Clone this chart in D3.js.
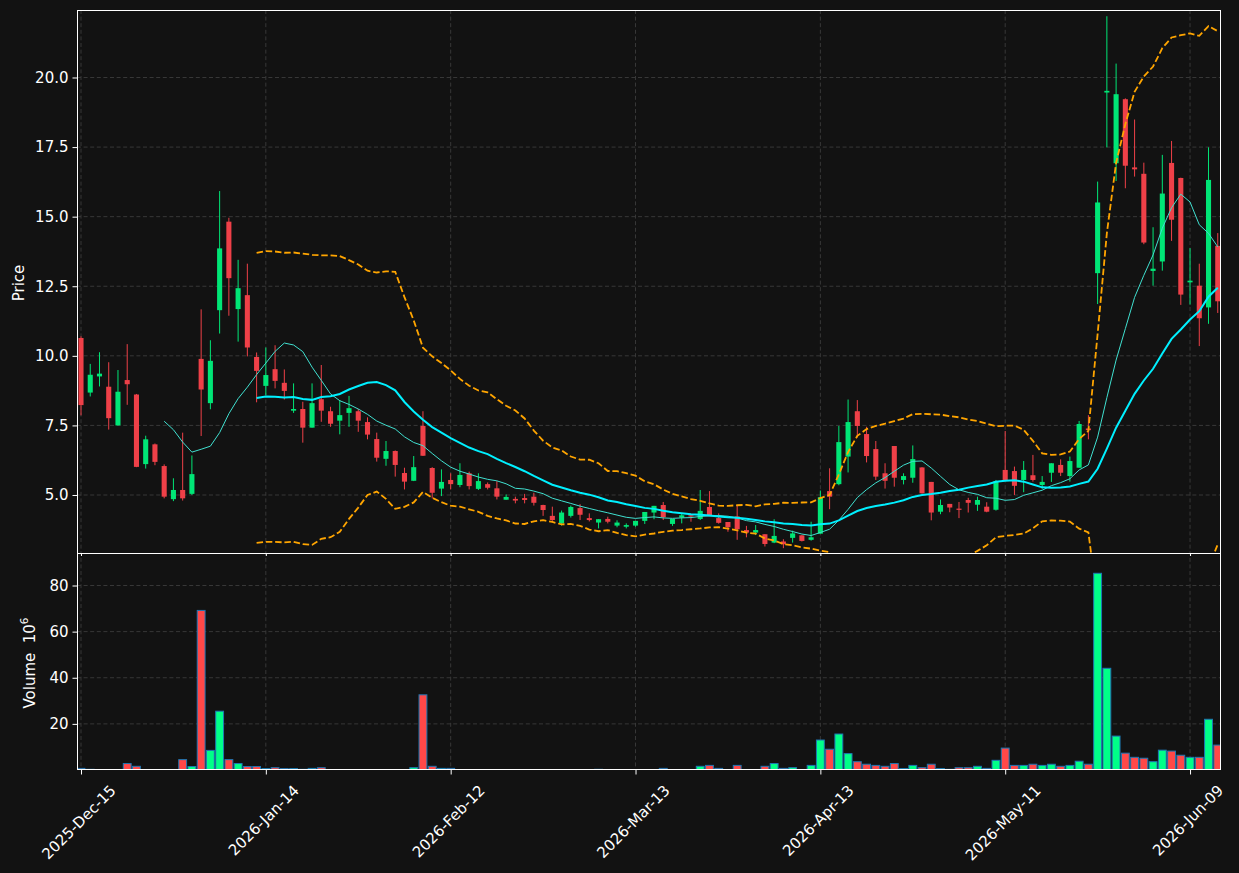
<!DOCTYPE html>
<html><head><meta charset="utf-8">
<script src="https://cdn.jsdelivr.net/npm/d3@7"></script>
<style>
html,body{margin:0;padding:0;background:#121212;}
svg{display:block;}
text{font-family:"DejaVu Sans",sans-serif;}
</style></head><body>
<svg id="chart" width="1239" height="873"></svg>
<script>
// ---- data ----
const openP = [10.64,8.68,9.26,8.89,7.50,9.13,8.61,6.11,6.82,6.04,4.85,5.18,5.04,9.89,8.30,11.64,14.82,11.68,12.18,9.96,
8.92,9.52,9.03,8.03,8.09,7.42,8.44,8.01,7.67,7.95,8.01,7.62,7.01,6.30,6.58,5.79,5.51,7.48,5.97,5.23,
5.54,5.36,5.78,5.22,5.39,5.24,4.83,4.86,4.89,4.94,4.64,4.25,3.98,4.25,4.53,4.17,4.01,4.14,3.90,3.86,
3.90,4.07,4.37,4.64,3.96,4.19,4.27,4.14,4.57,4.17,4.03,4.23,3.74,3.65,3.59,3.29,3.33,3.46,3.55,3.39,
3.61,5.14,5.39,6.38,8.01,7.19,6.65,5.78,6.76,5.54,5.62,5.99,5.47,4.40,4.68,4.51,4.82,4.65,4.58,4.47,
5.90,5.86,5.54,5.71,5.36,5.80,6.08,5.68,5.98,7.39,12.97,19.46,16.92,19.22,16.77,16.54,13.05,13.39,16.93,16.39,
12.64,12.52,11.74,13.95];
const highP = [10.70,9.71,10.13,9.77,9.49,10.42,8.63,7.13,6.85,6.10,5.60,7.24,6.42,11.67,10.56,15.92,14.96,13.45,13.31,10.12,
10.30,10.38,9.51,9.01,8.35,9.01,9.67,8.17,8.41,8.56,8.09,7.79,7.24,6.94,6.60,5.98,6.40,8.01,6.00,5.92,
5.78,6.14,5.84,5.78,5.45,5.50,5.02,4.94,5.04,5.08,4.65,4.58,4.44,4.62,4.67,4.34,4.13,4.22,4.09,3.98,
4.07,4.39,4.61,4.75,4.14,4.34,4.32,5.18,5.14,4.34,4.03,4.64,3.89,3.92,3.59,4.13,3.41,3.72,3.56,4.04,
5.16,5.96,7.48,8.43,8.41,7.45,6.94,6.14,6.76,5.78,6.78,6.00,5.47,4.84,4.68,4.75,4.90,4.94,4.74,5.54,
7.30,6.02,6.22,6.44,5.68,6.14,6.28,6.38,7.66,7.87,16.26,22.20,20.50,19.25,18.49,16.94,14.62,17.22,17.72,16.40,
13.87,13.31,17.49,14.41];
const lowP = [7.86,8.54,8.90,7.35,7.50,8.24,6.00,5.95,6.07,4.88,4.78,4.80,5.00,7.12,8.08,10.80,11.44,10.51,9.98,8.33,
8.59,8.83,8.43,7.95,6.88,7.42,7.63,7.45,7.18,7.45,7.27,7.00,6.20,6.05,5.66,5.20,5.50,6.40,4.88,4.96,
5.20,5.28,5.20,5.18,5.20,4.84,4.83,4.70,4.70,4.62,4.25,4.07,3.90,4.19,4.10,4.05,3.80,3.98,3.84,3.80,
3.86,3.96,4.13,4.10,3.89,3.98,4.04,4.10,4.24,3.97,3.68,3.39,3.48,3.56,3.15,3.27,3.09,3.29,3.33,3.36,
3.61,4.49,5.35,5.81,7.07,6.17,5.54,5.23,5.30,5.38,5.44,5.05,4.09,4.31,4.38,4.17,4.37,4.43,4.38,4.44,
5.54,5.00,5.10,5.48,5.22,5.47,5.68,5.48,5.98,7.00,11.86,17.49,16.28,16.02,16.44,14.01,12.52,13.06,14.13,11.83,
11.84,10.35,11.15,11.54];
const closeP = [8.23,9.32,9.36,7.76,8.71,8.98,6.01,7.00,6.19,4.94,5.18,4.88,5.75,8.79,9.82,13.86,12.79,12.43,10.30,9.46,
9.31,9.10,8.74,8.09,7.42,8.30,8.03,7.56,7.87,8.12,7.67,7.17,6.34,6.58,6.08,5.48,6.00,6.41,5.08,5.47,
5.39,5.72,5.32,5.50,5.26,4.94,4.93,4.80,4.82,4.72,4.46,4.10,4.37,4.57,4.29,4.10,4.13,4.04,4.01,3.92,
4.07,4.39,4.61,4.20,4.14,4.27,4.24,4.43,4.25,4.00,3.84,3.77,3.65,3.74,3.24,3.53,3.23,3.62,3.35,3.48,
4.92,4.94,6.90,7.62,7.48,6.40,5.66,5.51,5.62,5.68,6.29,5.06,4.37,4.64,4.55,4.49,4.72,4.82,4.40,5.50,
5.54,5.33,5.90,5.54,5.47,6.14,5.80,6.22,7.55,7.33,15.51,19.52,19.40,16.83,16.70,14.07,13.13,15.83,14.89,12.20,
12.70,11.35,16.32,11.96];
const volume = [0.7,0.3,0.1,0.2,0.2,2.8,1.6,0.2,0.2,0.2,0.2,4.5,1.5,69.2,8.5,25.5,4.5,2.8,1.5,1.5,
0.6,1.0,0.6,0.6,0.3,0.7,1.0,0.2,0.2,0.2,0.2,0.2,0.2,0.2,0.2,0.2,1.0,32.6,1.6,0.7,
0.7,0.2,0.2,0.2,0.05,0.2,0.2,0.2,0.2,0.2,0.2,0.2,0.2,0.2,0.2,0.05,0.3,0.05,0.05,0.05,
0.05,0.2,0.2,0.7,0.2,0.2,0.2,1.6,2.0,0.7,0.2,2.0,0.2,0.2,1.6,2.8,0.7,1.0,0.2,2.0,
13.0,9.0,15.6,7.1,3.6,2.5,2.0,1.6,2.8,0.6,2.0,1.0,2.5,0.6,0.3,1.0,1.0,1.6,0.7,4.2,
9.5,2.0,2.0,2.5,2.0,2.5,1.6,2.0,3.8,2.5,85.3,44.1,14.7,7.3,5.5,5.1,3.6,8.6,8.2,6.4,
5.5,5.5,22.0,10.8];
const tickIdx = [0,20,40,60,80,100,120];
const tickLabels = ["2025-Dec-15","2026-Jan-14","2026-Feb-12","2026-Mar-13","2026-Apr-13","2026-May-11","2026-Jun-09"];
const priceTicks = [5,7.5,10,12.5,15,17.5,20];
const volTicks = [20,40,60,80];
const maShortWin = 10, maLongWin = 20, bandK = 2;

// ---- styling ----
const BG = "#121212", GRID = "#3c3c3c", FG = "#ffffff";
const UP = "#00e676", DOWN = "#ef4048", VUP = "#00ff88", VDOWN = "#ff4848", VEDGE = "#1f77b4";
const FS = "15px";

const svg = d3.select("#chart");
svg.append("rect").attr("width",1239).attr("height",873).attr("fill",BG);

const L = 77, R = 1221, PT = 10, PB = 553, VB = 770;
const x = d3.scaleLinear().domain([-0.433, 123.35]).range([L, R]);
const yP = d3.scaleLinear().domain([2.916, 22.425]).range([PB, PT]);
const yV = d3.scaleLinear().domain([0, 94.1]).range([VB, PB]);
const step = x(1) - x(0);

const defs = svg.append("defs");
defs.append("clipPath").attr("id","clipP").append("rect").attr("x",L).attr("y",PT).attr("width",R-L).attr("height",PB-PT);
defs.append("clipPath").attr("id","clipV").append("rect").attr("x",L).attr("y",PB).attr("width",R-L).attr("height",VB-PB);

// grids
const grid = svg.append("g").attr("stroke",GRID).attr("stroke-width",0.9).attr("stroke-dasharray","4,2.6");
grid.selectAll("line.hp").data(priceTicks).join("line")
  .attr("x1",L).attr("x2",R).attr("y1",d=>yP(d)).attr("y2",d=>yP(d));
grid.selectAll("line.hv").data(volTicks).join("line").attr("class","hv")
  .attr("x1",L).attr("x2",R).attr("y1",d=>yV(d)).attr("y2",d=>yV(d));
grid.selectAll("line.vx").data(tickIdx).join("line").attr("class","vx")
  .attr("x1",d=>x(d)).attr("x2",d=>x(d)).attr("y1",PT).attr("y2",VB);

const idx = d3.range(closeP.length);

// candles
const cg = svg.append("g").attr("clip-path","url(#clipP)");
const bw = step*0.55;
cg.selectAll("line.wick").data(idx).join("line").attr("class","wick")
  .attr("x1",i=>x(i)).attr("x2",i=>x(i))
  .attr("y1",i=>yP(highP[i])).attr("y2",i=>yP(lowP[i]))
  .attr("stroke",i=>closeP[i]>=openP[i]?UP:DOWN).attr("stroke-width",1);
cg.selectAll("rect.body").data(idx).join("rect").attr("class","body")
  .attr("x",i=>x(i)-bw/2).attr("width",bw)
  .attr("y",i=>yP(Math.max(openP[i],closeP[i])))
  .attr("height",i=>Math.max(1.2, Math.abs(yP(openP[i])-yP(closeP[i]))))
  .attr("fill",i=>closeP[i]>=openP[i]?UP:DOWN);

// moving averages and bands from the closes
function rolling(win){
  return idx.map(i=>{
    if(i<win-1) return null;
    const s = closeP.slice(i-win+1,i+1);
    const m = d3.mean(s), sd = d3.deviation(s);
    return {i, m, sd};
  }).filter(d=>d);
}
const r10 = rolling(maShortWin), r20 = rolling(maLongWin);
const lg = svg.append("g").attr("clip-path","url(#clipP)").attr("fill","none");
const line = (f)=>d3.line().x(d=>x(d.i)).y(f);
lg.append("path").datum(r10).attr("d",line(d=>yP(d.m))).attr("stroke","#40e0d0").attr("stroke-width",1);
lg.append("path").datum(r20).attr("d",line(d=>yP(d.m))).attr("stroke","#00f0ff").attr("stroke-width",2);
lg.append("path").datum(r20).attr("d",line(d=>yP(d.m+bandK*d.sd))).attr("stroke","#ffa500").attr("stroke-width",1.8).attr("stroke-dasharray","6.5,2.8");
lg.append("path").datum(r20).attr("d",line(d=>yP(d.m-bandK*d.sd))).attr("stroke","#ffa500").attr("stroke-width",1.8).attr("stroke-dasharray","6.5,2.8");

// volume
const vw = step*0.85;
svg.append("g").attr("clip-path","url(#clipV)").selectAll("rect").data(idx).join("rect")
  .attr("x",i=>x(i)-vw/2).attr("width",vw)
  .attr("y",i=>yV(volume[i])).attr("height",i=>yV(0)-yV(volume[i]))
  .attr("fill",i=>closeP[i]>=openP[i]?VUP:VDOWN)
  .attr("stroke",VEDGE).attr("stroke-width",1);

// axes
function styleAxis(g){
  g.select(".domain").remove();
  g.attr("font-family","DejaVu Sans").attr("font-size",15);
  g.selectAll(".tick line").attr("stroke",FG);
  g.selectAll(".tick text").attr("fill",FG).style("font-size",FS).style("font-family","DejaVu Sans");
}
svg.append("g").attr("transform",`translate(${L},0)`)
  .call(d3.axisLeft(yP).tickValues(priceTicks).tickFormat(d3.format(".1f")).tickSize(4.5).tickPadding(4))
  .call(styleAxis);
svg.append("g").attr("transform",`translate(${L},0)`)
  .call(d3.axisLeft(yV).tickValues(volTicks).tickFormat(d3.format("d")).tickSize(4.5).tickPadding(4))
  .call(styleAxis);
svg.append("g").attr("transform",`translate(0,${VB})`)
  .call(d3.axisBottom(x).tickValues(tickIdx).tickFormat("").tickSize(4.5))
  .call(styleAxis);
svg.append("g").attr("transform",`translate(0,${PB})`)
  .call(d3.axisBottom(x).tickValues(tickIdx).tickFormat("").tickSize(3))
  .call(styleAxis);

const xl = svg.append("g");
tickIdx.forEach((t,k)=>{
  const tx = xl.append("text").text(tickLabels[k]).attr("fill",FG)
    .style("font-size",FS).attr("text-anchor","middle").attr("dominant-baseline","central");
  const len = tx.node().getComputedTextLength();
  const cx = x(t)-2, cy = 788 + len*0.3535;
  tx.attr("transform",`translate(${cx},${cy}) rotate(-45)`);
});

// frames
const fr = svg.append("g").attr("fill","none").attr("stroke",FG).attr("stroke-width",1);
fr.append("rect").attr("x",L+0.5).attr("y",PT+0.5).attr("width",R-L-1).attr("height",PB-PT);
fr.append("rect").attr("x",L+0.5).attr("y",PB+0.5).attr("width",R-L-1).attr("height",VB-PB-1);

// axis labels
svg.append("text").attr("transform","translate(24,283) rotate(-90)").attr("text-anchor","middle")
  .attr("fill",FG).style("font-size",FS).text("Price");
const vl = svg.append("text").attr("transform","translate(35,663) rotate(-90)").attr("text-anchor","middle")
  .attr("fill",FG).style("font-size",FS).style("white-space","pre").attr("xml:space","preserve");
vl.append("tspan").text("Volume  10");
vl.append("tspan").attr("dy","-7").style("font-size","10.5px").text("6");
</script>
</body></html>
